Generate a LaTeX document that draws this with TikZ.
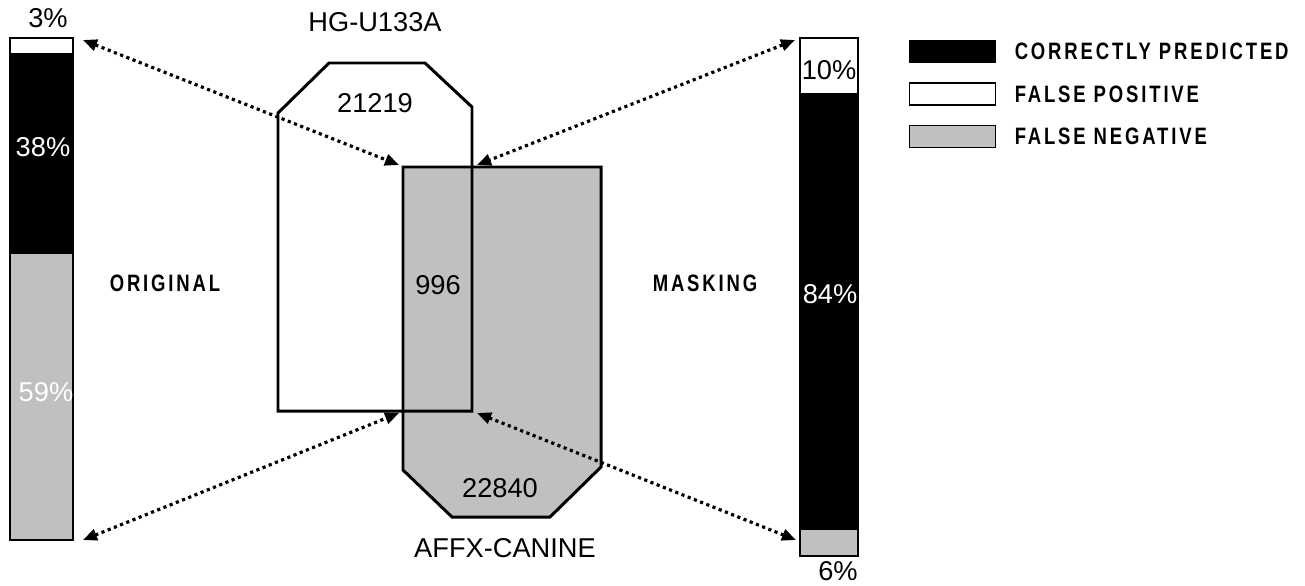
\documentclass[tikz,border=0pt]{standalone}
\usepackage{fontspec}
\setmainfont{Liberation Sans}
\newfontfamily\narrowfont[FakeStretch=0.78, LetterSpace=12]{Liberation Sans}
\usetikzlibrary{arrows.meta, positioning, calc}
\definecolor{fngray}{RGB}{192,192,192}

\tikzset{
  barseg/.style={draw=black, line width=1pt},
  chipset/.style={draw=black, line width=1.7pt, line join=miter},
  pct/.style={font=\fontsize{15.5}{15.5}\selectfont, inner sep=0pt},
  setname/.style={font=\fontsize{15.5}{15.5}\selectfont, inner sep=0pt},
  method/.style={font=\narrowfont\bfseries\fontsize{13.5}{13.5}\selectfont, inner sep=0pt},
  legbox/.style={draw=black, line width=0.8pt, minimum width=86*0.02cm, minimum height=22*0.02cm, inner sep=0pt},
  legtext/.style={font=\narrowfont\bfseries\fontsize{13.5}{13.5}\selectfont, inner sep=0pt, anchor=west},
  link/.style={dotted, line width=1.8pt, {Triangle[length=8pt,width=6.5pt]}-{Triangle[length=8pt,width=6.5pt]}},
}

\begin{document}
\begin{tikzpicture}[x=0.02cm, y=-0.02cm]
  \useasboundingbox (0,0) rectangle (1305,585);

  % original bar
  \draw[barseg, fill=white]  (10,38) rectangle (73,54);
  \draw[barseg, fill=black]  (10,54) rectangle (73,253);
  \draw[barseg, fill=fngray] (10,253) rectangle (73,540);
  \coordinate (origtop) at (73,38);
  \coordinate (origbot) at (73,540);
  \node[pct] (origfp) at (48,18) {3\%};
  \node[pct, text=white] (origcp) at (43,147) {38\%};
  \node[pct, text=white] (origfn) at (46,392) {59\%};
  \node[method] (original) at (165,283) {ORIGINAL};

  % masking bar
  \draw[barseg, fill=white]  (800,38) rectangle (858,94);
  \draw[barseg, fill=black]  (800,94) rectangle (858,529);
  \draw[barseg, fill=fngray] (800,529) rectangle (858,556);
  \coordinate (masktop) at (800,38);
  \coordinate (maskbot) at (800,540);
  \node[pct] (maskfp) at (829,70) {10\%};
  \node[pct, text=white] (maskcp) at (830,294) {84\%};
  \node[pct] (maskfn) at (838,571) {6\%};
  \node[method] (masking) at (705,283) {MASKING};

  % the two chips
  \fill[white]  (278,113) -- (329,63) -- (425,63) -- (472,107) -- (472,411) -- (278,411) -- cycle;
  \fill[fngray] (403,167) -- (601,167) -- (601,467) -- (550,517) -- (452,517) -- (403,470) -- cycle;
  \draw[chipset] (278,113) -- (329,63) -- (425,63) -- (472,107) -- (472,411) -- (278,411) -- cycle;
  \draw[chipset] (403,167) -- (601,167) -- (601,467) -- (550,517) -- (452,517) -- (403,470) -- cycle;
  \coordinate (ovnw) at (403,167);
  \coordinate (ovne) at (472,167);
  \coordinate (ovsw) at (403,411);
  \coordinate (ovse) at (472,411);

  \node[setname] (hg) at (375,22) {HG-U133A};
  \node[setname] (hgcount) at (375,103) {21219};
  \node[setname] (ovcount) at (438,285) {996};
  \node[setname] (affxcount) at (500,488) {22840};
  \node[setname] (affx) at (505,548) {AFFX-CANINE};

  % links
  \draw[link] ($(origtop)+(10,2)$) -- ($(ovnw)+(-4,-2)$);
  \draw[link] ($(masktop)+(-5,2)$) -- ($(ovne)+(5,-2)$);
  \draw[link] ($(origbot)+(10,0)$) -- ($(ovsw)+(-4,2)$);
  \draw[link] ($(maskbot)+(-4,0)$) -- ($(ovse)+(5,2)$);

  % legend
  \node[legbox, fill=black, anchor=north west] (legcp) at (909,40) {};
  \node[legbox, fill=white, below=19*0.02cm of legcp] (legfp) {};
  \node[legbox, fill=fngray, below=19*0.02cm of legfp] (legfn) {};
  \node[legtext] at ($(legcp.east)+(18,0)$) {CORRECTLY PREDICTED};
  \node[legtext] at ($(legfp.east)+(18,0)$) {FALSE POSITIVE};
  \node[legtext] at ($(legfn.east)+(18,0)$) {FALSE NEGATIVE};
\end{tikzpicture}
\end{document}
